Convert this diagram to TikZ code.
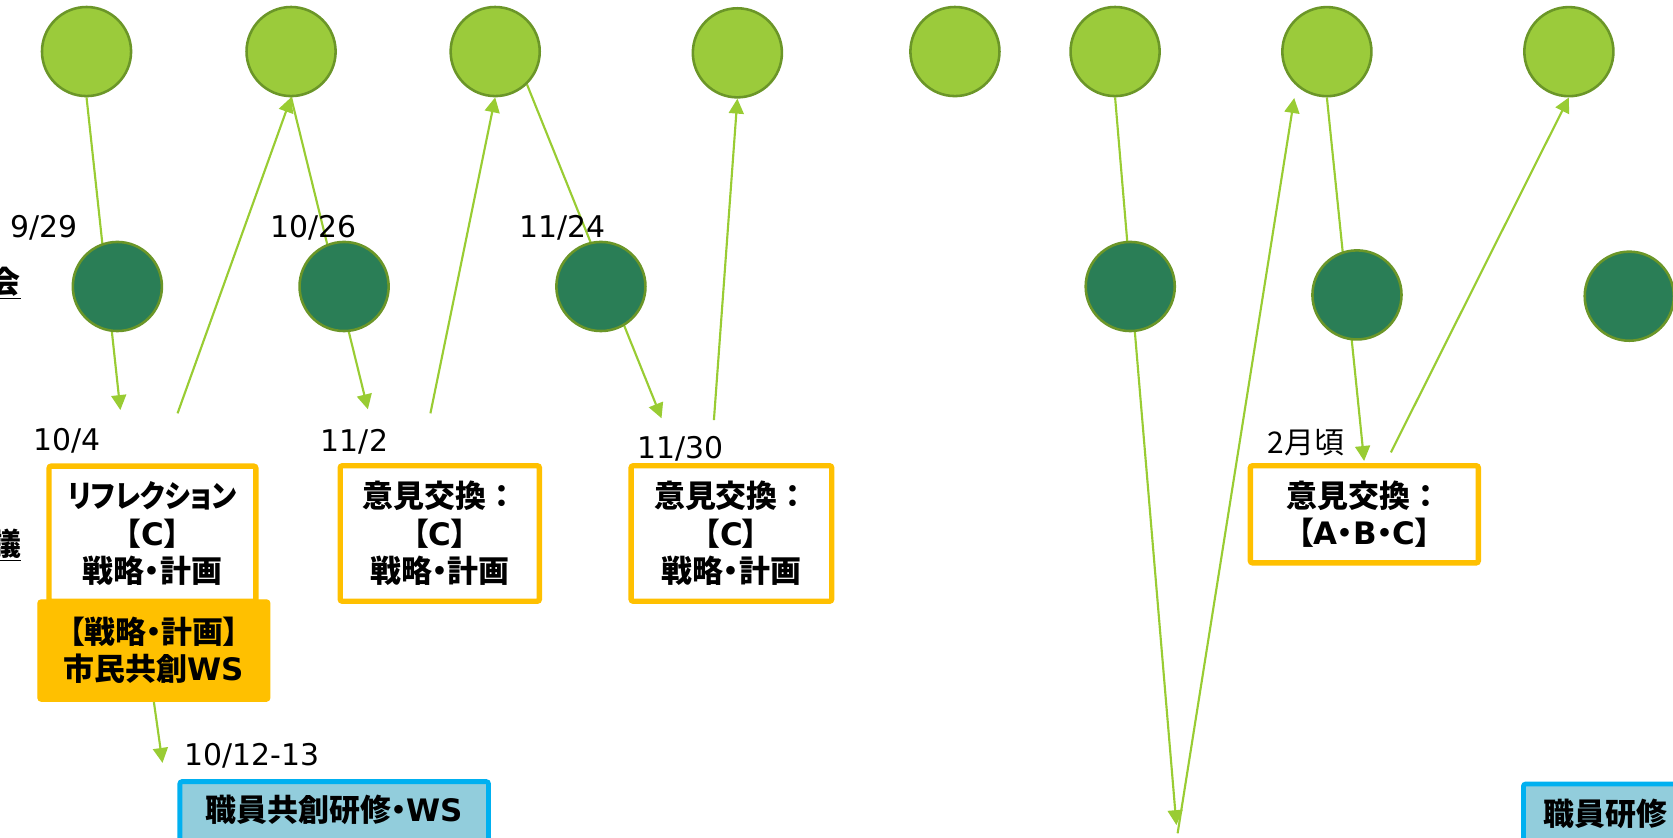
\documentclass[tikz,border=0pt]{standalone}
\usepackage{fontspec}
\setmainfont{DejaVu Sans}
\newfontfamily\jp[RawFeature=+palt]{Noto Sans CJK JP}
\newfontfamily\jpwide{Noto Sans CJK JP}
\newfontfamily\lat{DejaVu Sans}
\usetikzlibrary{arrows.meta,backgrounds}

\definecolor{leaf}{HTML}{9BCB3B}
\definecolor{leafedge}{HTML}{6B9628}
\definecolor{pine}{HTML}{2A7E56}
\definecolor{link}{HTML}{99CC33}
\definecolor{amber}{HTML}{FFC000}
\definecolor{sky}{HTML}{92CDDC}
\definecolor{skyedge}{HTML}{00B0F0}

% full-width colon used after 意見交換
\newcommand{\wcolon}{{\jpwide ：}}
% condensed katakana
\newcommand{\narrowkana}[1]{\scalebox{0.88}[1]{#1}}

\begin{document}
\begin{tikzpicture}[x=1pt,y=-1pt,
  upper/.style={circle, fill=leaf, draw=leafedge, line width=2.4pt,
    minimum size=83.5pt, inner sep=0pt},
  lower/.style={upper, fill=pine},
  flow/.style={draw=link, line width=2pt, -{Triangle[length=14pt,width=14pt]}},
  datelbl/.style={anchor=base west, inner sep=0pt,
    font=\fontsize{28}{30}\selectfont},
  boxfont/.style={font=\jp\bfseries\fontsize{29}{35}\selectfont},
  talk/.style={boxfont, draw=amber, fill=white, line width=5pt,
    rounded corners=2pt, align=center, inner sep=0pt},
  civic/.style={boxfont, draw=amber, fill=amber, line width=1pt,
    rounded corners=3pt, align=center, inner sep=0pt},
  staff/.style={boxfont, draw=skyedge, fill=sky, line width=4.5pt,
    rounded corners=2pt, inner ysep=0pt},
  rowlbl/.style={boxfont, anchor=base east, inner sep=0pt},
]
\useasboundingbox (0,0) rectangle (1568,785.4);

% upper row of circles
\node[upper] (c1) at (81.1,48.3) {};
\node[upper] (c2) at (272.8,48.3) {};
\node[upper] (c3) at (464.1,48.3) {};
\node[upper] (c4) at (691.1,49.5) {};
\node[upper] (c5) at (895.0,48.3) {};
\node[upper] (c6) at (1045.1,48.3) {};
\node[upper] (c7) at (1243.6,48.4) {};
\node[upper] (c8) at (1470.4,48.4) {};

% lower row of circles
\node[lower] (d1) at (110.0,268.5) {};
\node[lower] (d2) at (322.5,268.5) {};
\node[lower] (d3) at (563.2,268.5) {};
\node[lower] (d4) at (1059.3,268.5) {};
\node[lower] (d5) at (1271.8,276.4) {};
\node[lower] (d6) at (1527.0,277.6) {};

% row labels at the left edge
\node[rowlbl] (r1) at (19.5,275) {\underline{会}};
\node[rowlbl] (r2) at (20.0,521) {\underline{議}};

% dates
\node[datelbl] (t1) at (9.4,223) {9/29};
\node[datelbl] (t2) at (253.4,223) {10/26};
\node[datelbl] (t3) at (487.0,223) {11/24};
\node[datelbl] (t4) at (30.8,422) {10/4};
\node[datelbl] (t5) at (300.6,423) {11/2};
\node[datelbl] (t6) at (597.1,430) {11/30};
\node[datelbl] (t7) at (172.4,717) {10/12-13};
\node[datelbl, font=\jp\fontsize{28}{30}\selectfont] (t8) at (1188,425) {2月頃};

% meeting boxes
\node[talk, minimum width=193.8pt, minimum height=126.7pt] (b1) at (142.9,500.2)
  {\narrowkana{リフレクション}\\【{\lat C}】\\戦略・計画};
\node[talk, minimum width=186.7pt, minimum height=127pt] (b2) at (412.2,500)
  {意見交換\wcolon\\【{\lat C}】\\戦略・計画};
\node[talk, minimum width=188pt, minimum height=127pt] (b3) at (685.5,500)
  {意見交換\wcolon\\【{\lat C}】\\戦略・計画};
\node[talk, minimum width=213.7pt, minimum height=91pt] (b4) at (1278.7,482)
  {意見交換\wcolon\\【{\lat A}・{\lat B}・{\lat C}】};

% citizen workshop
\node[civic, minimum width=217.4pt, minimum height=95pt] (ws) at (144.2,609.7)
  {【戦略・計画】\\市民共創{\lat WS}};

% staff training boxes
\node[staff, anchor=north, minimum width=289.2pt, text height=37.7pt, text depth=22pt]
  (s1) at (313.2,730.3) {職員共創研修・{\lat WS}};
\node[staff, anchor=north west, inner xsep=18.5pt, text height=38.4pt, text depth=20pt]
  (s2) at (1425.6,732.6) {職員研修};

% free ends of the connectors
\coordinate (a1) at (112.8,384.3);
\coordinate (u1) at (166.4,387.4);
\coordinate (a2) at (344.8,383.6);
\coordinate (u2) at (403.4,387.4);
\coordinate (a3) at (620.0,392.0);
\coordinate (u3) at (669.1,393.7);
\coordinate (a5) at (1102.6,773.3);
\coordinate (u4) at (1103.7,781.0);
\coordinate (u5) at (1303.6,424.0);
\coordinate (a7) at (152.3,715.0);

\begin{pgfonlayer}{background}
  \draw[flow] (c1.south) -- (a1);
  \draw[flow] (u1) -- (c2.south);
  \draw[flow] (c2.south) -- (a2);
  \draw[flow] (u2) -- (c3.south);
  \draw[flow] (c3.-46) -- (a3);
  \draw[flow] (u3) -- (c4.south);
  \draw[flow] (c6.south) -- (a5);
  \draw[flow, shorten >=11.7pt] (u4) -- (c7.228);
  \draw[flow, shorten >=2pt] (c7.south) -- (b4.north);
  \draw[flow] (u5) -- (c8.south);
  \draw[flow] (ws.south) -- (a7);
\end{pgfonlayer}
\end{tikzpicture}
\end{document}
